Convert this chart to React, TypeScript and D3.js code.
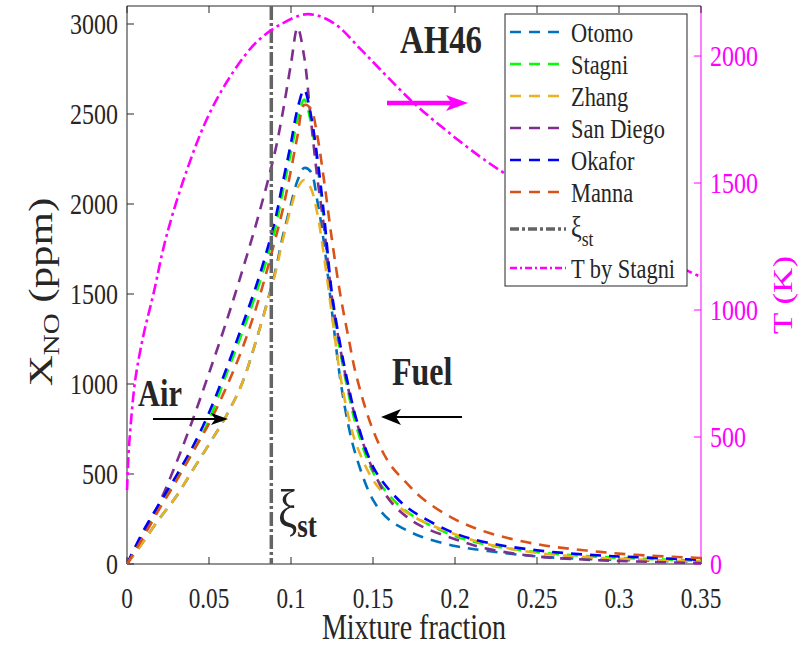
import * as d3 from "d3";

// mixture fraction grid shared by the NO curves
const xGrid = [0, 0.01, 0.02, 0.03, 0.04, 0.05, 0.06, 0.07, 0.08, 0.09, 0.095, 0.1, 0.104, 0.108, 0.112, 0.116, 0.12, 0.125, 0.13, 0.135, 0.14, 0.15, 0.16, 0.17, 0.18, 0.2, 0.22, 0.25, 0.28, 0.31, 0.35];

// X_NO in ppm
const otomo = [0, 125, 255, 375, 520, 665, 815, 1000, 1280, 1610, 1820, 2000, 2130, 2200, 2180, 2020, 1790, 1400, 1030, 770, 590, 356, 244, 190, 150, 100, 72, 42, 28, 20, 12];
const stagni = [0, 175, 325, 470, 620, 800, 1040, 1280, 1540, 1850, 2070, 2290, 2470, 2580, 2460, 2220, 1910, 1460, 1180, 950, 760, 510, 380, 295, 238, 155, 106, 66, 44, 31, 18];
const zhang = [0, 125, 255, 375, 520, 665, 815, 1000, 1280, 1600, 1800, 1980, 2090, 2133, 2090, 1950, 1720, 1380, 1050, 820, 660, 467, 360, 290, 238, 165, 110, 62, 38, 25, 14];
const sanDiego = [0, 165, 345, 560, 800, 1060, 1330, 1620, 1930, 2280, 2510, 2780, 2980, 2820, 2480, 2150, 1880, 1480, 1200, 970, 790, 522, 356, 266, 208, 138, 84, 42, 24, 14, 5];
const okafor = [0, 185, 340, 490, 650, 840, 1070, 1318, 1580, 1900, 2120, 2340, 2530, 2635, 2500, 2260, 1950, 1500, 1220, 990, 800, 541, 411, 320, 260, 170, 118, 76, 52, 38, 23];
const manna = [0, 150, 310, 460, 620, 780, 970, 1190, 1460, 1790, 1970, 2190, 2380, 2550, 2530, 2380, 2140, 1800, 1500, 1260, 1040, 744, 559, 455, 365, 248, 175, 110, 75, 51, 33];

// temperature by Stagni (K)
const tempX = [0, 0.001, 0.002, 0.005, 0.01, 0.016, 0.024, 0.037, 0.05, 0.065, 0.079, 0.093, 0.11, 0.126, 0.142, 0.154, 0.174, 0.195, 0.215, 0.23, 0.26, 0.29, 0.32, 0.341, 0.35];
const tempK = [291, 440, 527, 724, 900, 1060, 1290, 1560, 1770, 1940, 2055, 2122, 2165, 2130, 2030, 1950, 1820, 1705, 1605, 1539, 1420, 1315, 1225, 1157, 1130];

const xiSt = 0.088;

const seriesNames = ["Otomo", "Stagni", "Zhang", "San Diego", "Okafor", "Manna"];
const seriesValues = [otomo, stagni, zhang, sanDiego, okafor, manna];
const seriesColors = ["#0072BD", "#00FF00", "#EDB120", "#7E2F8E", "#0000FF", "#D95319"];

const xTicks = [0, 0.05, 0.1, 0.15, 0.2, 0.25, 0.3, 0.35];
const xTickLabels = ["0", "0.05", "0.1", "0.15", "0.2", "0.25", "0.3", "0.35"];
const yTicks = [0, 500, 1000, 1500, 2000, 2500, 3000];
const tTicks = [0, 500, 1000, 1500, 2000];

const FONT = "'Liberation Serif', 'Times New Roman', serif";
const SX = 0.8;
const INK = "#262626";
const MAG = "#FF00FF";

function Label({ x, y, size, anchor = "start", bold = false, fill = INK, rot = false, children }: any) {
  return (
    <g transform={`translate(${x},${y}) scale(${SX},1)${rot ? " rotate(-90)" : ""}`}>
      <text fontFamily={FONT} fontSize={size} textAnchor={anchor} fontWeight={bold ? "bold" : "normal"} fill={fill}>
        {children}
      </text>
    </g>
  );
}

function Arrow({ x1, x2, y, color, width, len, half }: any) {
  const dir = Math.sign(x2 - x1);
  const base = x2 - dir * len;
  const notch = x2 - dir * len * 0.75;
  return (
    <g>
      <line x1={x1} y1={y} x2={notch} y2={y} stroke={color} strokeWidth={width} />
      <polygon points={`${x2},${y} ${base},${y - half} ${notch},${y} ${base},${y + half}`} fill={color} />
    </g>
  );
}

export default function App() {
  const left = 127, right = 701, top = 6, bottom = 564;
  const x = d3.scaleLinear().domain([0, 0.35]).range([left, right]);
  const y = d3.scaleLinear().domain([0, 3100]).range([bottom, top]);
  const yT = d3.scaleLinear().domain([0, 2197]).range([bottom, top]);

  const noLine = d3.line<number>().x((_, i) => x(xGrid[i])).y((d) => y(d)).curve(d3.curveCatmullRom.alpha(0.5));
  const tLine = d3.line<number>().x((_, i) => x(tempX[i])).y((d) => yT(d)).curve(d3.curveCatmullRom.alpha(0.5));

  const tick = 7;
  const legRows = [32, 64, 96, 128, 160, 192, 229, 268];

  return (
    <svg width={802} height={648} style={{ position: "absolute", left: 0, top: 0, background: "#fff" }}>
      <rect x={0} y={0} width={802} height={648} fill="#fff" />

      {/* axes box */}
      <line x1={left} y1={top} x2={right} y2={top} stroke={INK} strokeWidth={1} />
      <line x1={left} y1={bottom} x2={right} y2={bottom} stroke={INK} strokeWidth={1} />
      <line x1={left} y1={top} x2={left} y2={bottom} stroke={INK} strokeWidth={1} />
      <line x1={right} y1={top} x2={right} y2={bottom} stroke={MAG} strokeWidth={1} />

      {xTicks.map((t, i) => (
        <g key={"xt" + i}>
          <line x1={x(t)} x2={x(t)} y1={bottom} y2={bottom - tick} stroke={INK} />
          <line x1={x(t)} x2={x(t)} y1={top} y2={top + tick} stroke={INK} />
          <Label x={x(t)} y={608} size={29} anchor="middle">{xTickLabels[i]}</Label>
        </g>
      ))}
      {yTicks.map((t) => (
        <g key={"yt" + t}>
          <line x1={left} x2={left + tick} y1={y(t)} y2={y(t)} stroke={INK} />
          <Label x={118} y={y(t) + 10} size={30} anchor="end">{String(t)}</Label>
        </g>
      ))}
      {tTicks.map((t) => (
        <g key={"tt" + t}>
          <line x1={right} x2={right - tick} y1={yT(t)} y2={yT(t)} stroke={MAG} />
          <Label x={710} y={yT(t) + 10} size={30} fill={MAG}>{String(t)}</Label>
        </g>
      ))}

      {/* NO curves */}
      {seriesValues.map((vals, i) => (
        <path key={seriesNames[i]} d={noLine(vals) || ""} fill="none" stroke={seriesColors[i]} strokeWidth={2.6} strokeDasharray="11,8" />
      ))}

      {/* stoichiometric mixture fraction */}
      <line x1={x(xiSt)} x2={x(xiSt)} y1={top} y2={bottom} stroke="#646464" strokeWidth={3.5} strokeDasharray="14,3,3,3" />

      {/* temperature */}
      <path d={tLine(tempK) || ""} fill="none" stroke={MAG} strokeWidth={2.6} strokeDasharray="11,4,3,4" />

      {/* axis titles */}
      <Label x={414} y={639} size={35} anchor="middle">Mixture fraction</Label>
      <Label x={52} y={292} size={43} rot anchor="middle">
        X<tspan fontSize={29} dy={9}>NO</tspan><tspan dy={-9}> (ppm)</tspan>
      </Label>
      <Label x={792} y={295} size={35} rot anchor="middle" fill={MAG}>T (K)</Label>

      {/* annotations */}
      <Label x={400} y={53} size={41} bold>AH46</Label>
      <Arrow x1={387} x2={468} y={103} color={MAG} width={4.5} len={22} half={8} />
      <Label x={138} y={406} size={38} bold>Air</Label>
      <Arrow x1={153} x2={228} y={419} color="#000" width={2} len={17} half={6} />
      <Label x={392} y={385} size={40} bold>Fuel</Label>
      <Arrow x1={462} x2={381} y={417} color="#000" width={2} len={20} half={8} />
      <Label x={278} y={528} size={54}>
        ξ<tspan fontSize={34} fontWeight="bold" dy={9}>st</tspan>
      </Label>

      {/* legend */}
      <rect x={505} y={14} width={182} height={272} fill="#fff" stroke={INK} strokeWidth={1} />
      {seriesNames.map((n, i) => (
        <g key={"lg" + n}>
          <line x1={510} x2={566} y1={legRows[i]} y2={legRows[i]} stroke={seriesColors[i]} strokeWidth={2.6} strokeDasharray="11,8" />
          <Label x={571} y={legRows[i] + 10} size={28}>{n}</Label>
        </g>
      ))}
      <line x1={510} x2={566} y1={legRows[6]} y2={legRows[6]} stroke="#646464" strokeWidth={3.5} strokeDasharray="9,3,3,3" />
      <Label x={571} y={legRows[6] + 8} size={30}>
        ξ<tspan fontSize={22} dy={9}>st</tspan>
      </Label>
      <line x1={510} x2={566} y1={legRows[7]} y2={legRows[7]} stroke={MAG} strokeWidth={2.4} strokeDasharray="7,3,2,3" />
      <Label x={571} y={legRows[7] + 10} size={28}>T by Stagni</Label>
    </svg>
  );
}
